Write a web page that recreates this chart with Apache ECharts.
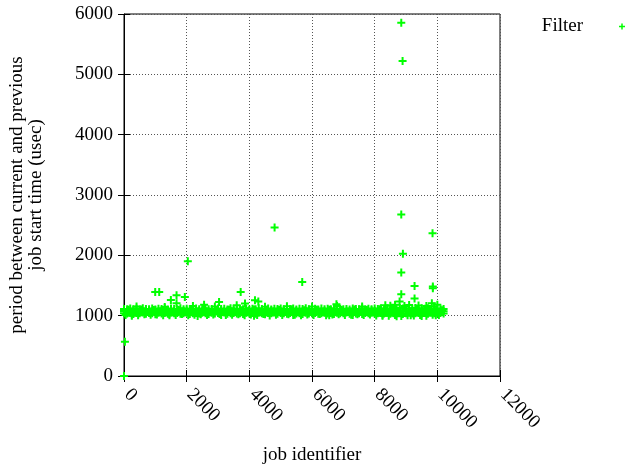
<!DOCTYPE html>
<html>
<head>
<meta charset="utf-8">
<script src="https://cdn.jsdelivr.net/npm/echarts@6/dist/echarts.min.js"></script>
<style>
  html, body { margin: 0; padding: 0; background: #fff; }
  #chart { width: 626px; height: 470px; }
</style>
</head>
<body>
<div id="chart"></div>
<script>
// x ticks and y ticks
var xTicks = [0, 2000, 4000, 6000, 8000, 10000, 12000];
var yTicks = [0, 1000, 2000, 3000, 4000, 5000, 6000];

// job ids along the dense band
var bandX = [0,100,200,300,400,500,600,700,800,900,
  1000,1100,1200,1300,1400,1500,1600,1700,1800,1900,
  2000,2100,2200,2300,2400,2500,2600,2700,2800,2900,
  3000,3100,3200,3300,3400,3500,3600,3700,3800,3900,
  4000,4100,4200,4300,4400,4500,4600,4700,4800,4900,
  5000,5100,5200,5300,5400,5500,5600,5700,5800,5900,
  6000,6100,6200,6300,6400,6500,6600,6700,6800,6900,
  7000,7100,7200,7300,7400,7500,7600,7700,7800,7900,
  8000,8100,8200,8300,8400,8500,8600,8700,8800,8900,
  9000,9100,9200,9300,9400,9500,9600,9700,9800,9900,
  10000,10100,10200];
var bandX2 = [50,150,250,350,450,550,650,750,850,950,
  1050,1150,1250,1350,1450,1550,1650,1750,1850,1950,
  2050,2150,2250,2350,2450,2550,2650,2750,2850,2950,
  3050,3150,3250,3350,3450,3550,3650,3750,3850,3950,
  4050,4150,4250,4350,4450,4550,4650,4750,4850,4950,
  5050,5150,5250,5350,5450,5550,5650,5750,5850,5950,
  6050,6150,6250,6350,6450,6550,6650,6750,6850,6950,
  7050,7150,7250,7350,7450,7550,7650,7750,7850,7950,
  8050,8150,8250,8350,8450,8550,8650,8750,8850,8950,
  9050,9150,9250,9350,9450,9550,9650,9750,9850,9950,
  10050,10150];

// rows of the band (usec)
var bandLow = [1042,1035,1050,1028,1046,1038,1052,1031,1044,1040,
  1025,1048,1037,1043,1030,1051,1039,1046,1032,1041,
  1049,1027,1038,1045,1034,1050,1042,1029,1047,1036,
  1043,1040,1053,1031,1038,1046,1035,1041,1028,1049,
  1037,1044,1032,1047,1040,1025,1043,1038,1051,1033,
  1046,1039,1030,1044,1048,1036,1042,1027,1050,1035,
  1041,1045,1032,1039,1047,1034,1043,1029,1048,1038,
  1040,1051,1033,1046,1037,1042,1026,1045,1039,1049,
  1032,1041,1044,1035,1050,1030,1043,1038,1046,1028,
  1040,1047,1034,1042,1051,1037,1044,1030,1048,1039,
  1041,1045,1036];
var bandMid = [1078,1085,1072,1089,1076,1082,1070,1087,1080,1074,
  1091,1077,1083,1071,1086,1079,1075,1088,1073,1081,
  1084,1076,1090,1072,1080,1085,1078,1069,1087,1082,
  1075,1089,1073,1081,1077,1086,1071,1083,1079,1074,
  1088,1076,1082,1070,1085,1080,1073,1087,1077,1084,
  1072,1089,1078,1075,1086,1081,1070,1083,1076,1088,
  1074,1080,1085,1071,1082,1077,1090,1073,1079,1086,
  1075,1081,1072,1087,1078,1084,1070,1083,1076,1089,
  1080,1074,1086,1077,1082,1071,1088,1079,1085,1073,
  1081,1076,1087,1072,1084,1078,1083,1075,1089,1080,
  1077,1082,1074];
var bandHigh = [1112,1105,1120,1108,1116,1103,1124,1110,1106,1118,
  1102,1114,1109,1121,1104,1117,1111,1107,1123,1105,
  1115,1110,1103,1119,1108,1113,1122,1106,1112,1104,
  1118,1109,1116,1102,1121,1107,1114,1111,1105,1119,
  1103,1113,1108,1124,1110,1106,1117,1104,1115,1109,
  1120,1105,1112,1107,1118,1103,1114,1110,1122,1106,
  1111,1116,1104,1119,1108,1113,1105,1121,1109,1115,
  1107,1112,1103,1118,1110,1106,1123,1104,1114,1108,
  1117,1111,1125,1106,1120,1113,1128,1110,1126,1119,
  1115,1122,1108,1127,1112,1121,1116,1124,1110,1118,
  1113,1107,1111];
var bandOff = [1012,1098,1020,1065,1008,1102,1025,1060,1015,1095,
  1018,1068,1005,1100,1022,1058,1010,1092,1028,1063,
  1006,1097,1016,1070,1024,1104,1011,1056,1019,1094,
  1027,1066,1009,1099,1014,1061,1023,1090,1007,1072,
  1021,1101,1013,1057,1026,1096,1004,1067,1017,1093,
  1010,1062,1024,1105,1015,1059,1008,1091,1020,1069,
  1012,1098,1027,1064,1006,1100,1018,1055,1022,1095,
  1009,1071,1016,1103,1025,1060,1011,1092,1019,1066,
  1003,1108,1014,1070,1000,1112,1010,1062,995,1115,
  1008,1074,1002,1110,1012,1068,1000,1106,1015,1072,
  1010,1090];

// scattered points just off the band
var nearX = [250,1450,2350,3100,4150,5400,6550,7300,8250,8700,9150,9500,9950,
  400,1300,2200,2900,4500,5200,6000,6800,7600,8500,8650,8950,9100,9400,9650,9900,10000];
var nearY = [1000,1005,995,1010,1000,1010,1005,1012,1000,990,1005,995,1008,
  1150,1145,1160,1150,1148,1155,1150,1160,1150,1165,1180,1160,1175,1170,1160,1150,1180];

// outliers
var outX = [0,30,996,1124,1496,1677,1677,1942,2037,2556,3034,3597,3724,3862,4180,4287,
  4806,5688,6780,8340,8796,8849,8849,8849,8849,8891,8901,9273,9273,9825,9847,9857,9857];
var outY = [0,567,1393,1393,1261,1339,1207,1311,1900,1179,1228,1174,1393,1202,1256,1234,
  2463,1559,1190,1174,1234,1355,1714,2678,5856,5223,2028,1493,1284,1207,2364,1482,1455];

function pairs(xs, ys) {
  var out = [];
  for (var i = 0; i < Math.min(xs.length, ys.length); i++) out.push([xs[i], ys[i]]);
  return out;
}

var data = []
  .concat(pairs(bandX, bandLow))
  .concat(pairs(bandX, bandMid))
  .concat(pairs(bandX, bandHigh))
  .concat(pairs(bandX2, bandOff))
  .concat(pairs(nearX, nearY))
  .concat(pairs(outX, outY));

var plus = 'path://M3,0h2v3h3v2h-3v3h-2v-3h-3v-2h3z';
var fontFamily = '"Liberation Serif", "Times New Roman", serif';
var green = '#00ff00';
var gridLine = { show: true, lineStyle: { color: '#555', type: [1, 2], width: 1 } };
var plain = function (v) { return String(v); };

var myChart = echarts.init(document.getElementById('chart'), null, { renderer: 'canvas' });
myChart.setOption({
  backgroundColor: '#fff',
  animation: false,
  textStyle: { fontFamily: fontFamily },
  grid: {
    left: 123, right: 126, top: 14, bottom: 93,
    show: true, borderColor: '#000', borderWidth: 1
  },
  legend: {
    right: -4, top: 12,
    align: 'right',
    itemWidth: 6, itemHeight: 6,
    icon: plus,
    textStyle: { fontFamily: fontFamily, fontSize: 19, color: '#000', padding: [0, 31, 0, 0] },
    data: ['Filter']
  },
  xAxis: [{
    type: 'value', min: 0, max: 12000, interval: 2000,
    name: 'job identifier', nameLocation: 'middle', nameGap: 70,
    nameTextStyle: { fontFamily: fontFamily, fontSize: 19, color: '#000' },
    axisLine: { show: true, lineStyle: { color: '#000' } },
    axisTick: { show: true, inside: true, length: 6, lineStyle: { color: '#000' } },
    axisLabel: { rotate: -45, margin: 19, verticalAlign: 'bottom', lineHeight: 9, fontFamily: fontFamily, fontSize: 19, color: '#000', formatter: plain },
    splitLine: gridLine
  }, {
    type: 'value', position: 'top', min: 0, max: 12000, interval: 2000,
    axisLine: { show: false },
    axisTick: { show: true, inside: true, length: 6, lineStyle: { color: '#000' } },
    axisLabel: { show: false },
    splitLine: { show: false }
  }],
  yAxis: [{
    type: 'value', min: 0, max: 6000, interval: 1000,
    name: 'period between current and previous\njob start time (usec)',
    nameLocation: 'middle', nameGap: 78,
    nameTextStyle: { fontFamily: fontFamily, fontSize: 19, color: '#000', lineHeight: 19, align: 'center' },
    axisLine: { show: true, lineStyle: { color: '#000' } },
    axisTick: { show: true, inside: true, length: 6, lineStyle: { color: '#000' } },
    axisLabel: { margin: 11, fontFamily: fontFamily, fontSize: 19, color: '#000', formatter: plain },
    splitLine: gridLine
  }, {
    type: 'value', position: 'right', min: 0, max: 6000, interval: 1000,
    axisLine: { show: false },
    axisTick: { show: true, inside: true, length: 6, lineStyle: { color: '#000' } },
    axisLabel: { show: false },
    splitLine: { show: false }
  }],
  series: [{
    name: 'Filter',
    type: 'scatter',
    xAxisIndex: 0, yAxisIndex: 0,
    symbol: plus,
    symbolSize: 8,
    clip: false,
    itemStyle: { color: green, opacity: 1 },
    data: data
  }]
});
</script>
</body>
</html>
